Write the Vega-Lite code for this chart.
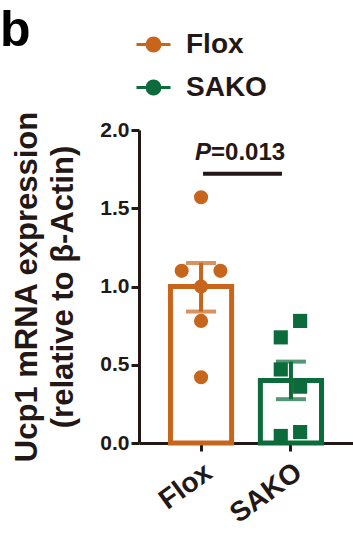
{
  "$schema": "https://vega.github.io/schema/vega-lite/v6.json",
  "width": 214,
  "height": 313,
  "autosize": {"type": "none"},
  "padding": {"left": 139, "top": 130, "right": 0, "bottom": 94},
  "title": {"text": "b", "anchor": "start", "frame": "group", "fontSize": 50, "fontWeight": "bold", "font": "Liberation Sans", "color": "#000000", "dx": -139, "offset": 0, "dy": 70, "baseline": "alphabetic"},
  "config": {
    "view": {"stroke": null},
    "font": "Liberation Sans",
    "axis": {"domainColor": "#231815", "tickColor": "#231815", "labelColor": "#231815", "titleColor": "#231815", "domainWidth": 3, "tickWidth": 3, "tickSize": 8, "grid": false, "labelFont": "Liberation Sans", "titleFont": "Liberation Sans", "labelFontWeight": "bold", "titleFontWeight": "bold"}
  },
  "resolve": {"scale": {"xOffset": "independent"}},
  "datasets": {
    "summary": [
      {"group": "Flox", "mean": 1.0, "lo": 0.84, "hi": 1.15},
      {"group": "SAKO", "mean": 0.40, "lo": 0.28, "hi": 0.52}
    ],
    "points": [
      {"group": "Flox", "value": 1.57, "jitter": 0},
      {"group": "Flox", "value": 1.10, "jitter": -19},
      {"group": "Flox", "value": 1.10, "jitter": 19},
      {"group": "Flox", "value": 1.00, "jitter": 0},
      {"group": "Flox", "value": 0.78, "jitter": 0},
      {"group": "Flox", "value": 0.42, "jitter": 0},
      {"group": "SAKO", "value": 0.78, "jitter": 9},
      {"group": "SAKO", "value": 0.675, "jitter": -10},
      {"group": "SAKO", "value": 0.47, "jitter": -10},
      {"group": "SAKO", "value": 0.36, "jitter": 9},
      {"group": "SAKO", "value": 0.07, "jitter": 9},
      {"group": "SAKO", "value": 0.045, "jitter": -10}
    ],
    "stat": [
      {"from": "Flox", "to": "SAKO", "y": 1.72, "ty": 1.81, "p": "P", "rest": "=0.013"}
    ]
  },
  "encoding": {
    "x": {"field": "group", "type": "nominal", "scale": {"domain": ["Flox", "SAKO"], "paddingInner": 0.32, "paddingOuter": 0.35},
      "axis": {"title": null, "labelAngle": -36, "labelFontSize": 28, "labelPadding": 7}}
  },
  "layer": [
    {
      "data": {"name": "summary"},
      "mark": {"type": "bar", "filled": false, "strokeWidth": 5, "fill": "white", "width": {"band": 1}},
      "encoding": {
        "y": {"field": "mean", "type": "quantitative", "scale": {"domain": [0, 2]},
          "axis": {"values": [0, 0.5, 1, 1.5, 2], "format": ".1f", "labelFontSize": 21, "labelPadding": 2,
            "title": ["Ucp1 mRNA expression", "(relative to β-Actin)"], "titleFontSize": 31, "titleLineHeight": 36, "titlePadding": 20}},
        "color": {"field": "group", "type": "nominal", "scale": {"domain": ["Flox", "SAKO"], "range": ["#C8651C", "#0B6B3A"]}}
      }
    },
    {
      "data": {"name": "summary"},
      "mark": {"type": "rule", "strokeWidth": 4},
      "encoding": {
        "y": {"field": "lo", "type": "quantitative"},
        "y2": {"field": "hi"},
        "color": {"field": "group", "type": "nominal"}
      }
    },
    {
      "data": {"name": "summary"},
      "mark": {"type": "tick", "thickness": 4, "size": 30},
      "encoding": {
        "y": {"field": "hi", "type": "quantitative"},
        "color": {"field": "group", "type": "nominal"}
      }
    },
    {
      "data": {"name": "summary"},
      "mark": {"type": "tick", "thickness": 4, "size": 30},
      "encoding": {
        "y": {"field": "lo", "type": "quantitative"},
        "color": {"field": "group", "type": "nominal"}
      }
    },
    {
      "data": {"name": "points"},
      "mark": {"type": "point", "filled": true, "opacity": 1, "size": 200},
      "encoding": {
        "y": {"field": "value", "type": "quantitative"},
        "xOffset": {"field": "jitter", "type": "quantitative", "scale": {"domain": [-30, 30]}},
        "color": {"field": "group", "type": "nominal",
          "legend": {"title": null, "orient": "none", "legendX": -4, "legendY": -104, "labelFontSize": 28, "labelFontWeight": "bold", "labelColor": "#231815", "labelFont": "Liberation Sans",
            "symbolType": "M-1,0H1M-0.38,0A0.38,0.38 0 1 1 0.38,0A0.38,0.38 0 1 1 -0.38,0Z", "symbolSize": 1156, "symbolStrokeWidth": 3, "symbolOpacity": 1, "labelOffset": 14, "rowPadding": 10,
            "encode": {"symbols": {"update": {"stroke": {"scale": "color", "field": "value"}, "fill": {"scale": "color", "field": "value"}, "strokeWidth": {"value": 3}, "opacity": {"value": 1}}}}}},
        "shape": {"condition": {"test": "datum.group === 'SAKO'", "value": "square"}, "value": "circle"}
      }
    },
    {
      "data": {"name": "stat"},
      "mark": {"type": "rule", "strokeWidth": 4, "color": "#231815", "x2Offset": -9, "xOffset": 2},
      "encoding": {
        "x": {"field": "from", "type": "nominal"},
        "x2": {"field": "to"},
        "y": {"field": "y", "type": "quantitative"}
      }
    },
    {
      "data": {"name": "stat"},
      "mark": {"type": "text", "align": "right", "baseline": "alphabetic", "fontSize": 24, "fontWeight": "bold", "fontStyle": "italic", "color": "#231815", "dx": 10},
      "encoding": {
        "x": {"field": "from", "type": "nominal"},
        "y": {"field": "ty", "type": "quantitative"},
        "text": {"field": "p"}
      }
    },
    {
      "data": {"name": "stat"},
      "mark": {"type": "text", "align": "left", "baseline": "alphabetic", "fontSize": 24, "fontWeight": "bold", "color": "#231815", "dx": 10},
      "encoding": {
        "x": {"field": "from", "type": "nominal"},
        "y": {"field": "ty", "type": "quantitative"},
        "text": {"field": "rest"}
      }
    }
  ]
}
